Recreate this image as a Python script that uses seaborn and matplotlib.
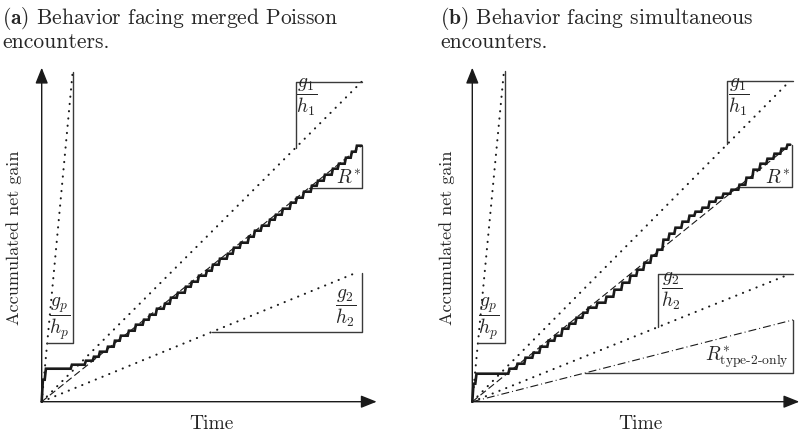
import numpy as np
import pandas as pd
import matplotlib
matplotlib.use("Agg")
import matplotlib.pyplot as plt
import seaborn as sns

# ---- data (units ~ pixels from the origin of each panel) ----

# panel (a): merged Poisson encounters
rate_names_a = ['gp', 'g1', 'rstar', 'g2']
rates_a = [10.65, 1.0, 0.80, 0.41]
line_end_a = [31.0, 320.0, 320.0, 313.0]
tri_from_a = [5.5, 254.0, 267.0, 170.0]
tri_to_a = [31.3, 320.0, 320.3, 320.0]
tri_side_a = ['below', 'above', 'below', 'below']
labels_a = [r'$\dfrac{g_p}{h_p}$', r'$\dfrac{g_1}{h_1}$', r'$R^{*}$', r'$\dfrac{g_2}{h_2}$']
label_x_a = [17.5, 265.0, 307.0, 304.0]
label_y_a = [83.0, 304.0, 224.0, 93.0]

# staircase of accumulated gain, panel (a): event times and gain after event
event_t_a = [0, 3, 29, 43, 51, 57, 65, 72, 78, 86, 93, 101, 107, 114, 122, 128,
             135, 143, 149, 156, 164, 170, 177, 185, 191, 198, 206, 212, 219,
             227, 233, 240, 248, 254, 261, 269, 275, 282, 290, 296, 303, 309, 314]
event_g_a = [22, 33, 37, 41, 45, 50, 55, 61, 66, 71, 77, 82, 87, 93, 98, 104,
             109, 115, 120, 126, 131, 137, 143, 148, 154, 159, 165, 171, 176,
             182, 187, 193, 199, 204, 210, 216, 221, 227, 233, 238, 244, 250, 256]
stair_end_a = 320.0

# panel (b): simultaneous encounters
rate_names_b = ['gp', 'g1', 'rstar', 'g2', 'r2']
rates_b = [10.44, 1.01, 0.808, 0.402, 0.255]
line_end_b = [31.7, 317.7, 317.7, 317.7, 320.7]
tri_from_b = [5.6, 254.7, 266.0, 185.7, 112.7]
tri_to_b = [32.7, 320.7, 319.7, 320.7, 320.7]
tri_side_b = ['below', 'above', 'below', 'above', 'below']
labels_b = [r'$\dfrac{g_p}{h_p}$', r'$\dfrac{g_1}{h_1}$', r'$R^{*}$',
            r'$\dfrac{g_2}{h_2}$', r'$R^{*}_{\text{type-2-only}}$']
label_x_b = [16.7, 266.7, 305.7, 199.7, 275.0]
label_y_b = [83.0, 304.0, 224.0, 110.0, 44.0]

event_t_b = [0, 3, 36, 44, 52, 60, 67, 75, 82, 89, 96, 103, 110, 115, 124, 133,
             141, 149, 157, 164, 171, 178, 184, 190, 196, 202, 209, 216, 222,
             229, 236, 243, 250, 258, 266, 273, 280, 287, 294, 301, 308, 314]
event_g_b = [18, 28, 33, 38, 44, 49, 55, 61, 66, 73, 78, 84, 89, 94, 99, 105,
             112, 119, 126, 132, 139, 146, 152, 162, 168, 174, 180, 186, 190,
             194, 200, 204, 208, 212, 217, 224, 232, 238, 243, 248, 253, 257]
stair_end_b = 318.0

titles = [r'$\mathbf{(a)}$ Behavior facing merged Poisson' + '\nencounters.',
          r'$\mathbf{(b)}$ Behavior facing simultaneous' + '\nencounters.']

# ---- style ----
sns.set_theme(style='white')
plt.rcParams['font.family'] = ['cmr10', 'DejaVu Serif']
plt.rcParams['mathtext.fontset'] = 'cm'
plt.rcParams['axes.unicode_minus'] = False
plt.rcParams['axes.formatter.use_mathtext'] = True

dotted = dict(ls=(0, (0.1, 3.4)), lw=1.5, dash_capstyle='round')
line_styles = {
    'gp': dotted,
    'g1': dotted,
    'g2': dotted,
    'rstar': dict(ls=(0, (6.3, 3.1)), lw=0.8),
    'r2': dict(ls=(0, (7.2, 2.7, 0.9, 2.7)), lw=0.8),
}


def stair_path(times, gains, t_end, slant=1.2):
    xs, ys, prev = [0.0], [0.0], 0.0
    for t, g in zip(times, gains):
        xs += [t, t + slant]
        ys += [prev, g]
        prev = g
    xs.append(t_end)
    ys.append(prev)
    return xs, ys


def draw_panel(ax, width, height, names, rates, ends, t_from, t_to, sides,
               labels, lx, ly, ev_t, ev_g, st_end):
    ax.set_xlim(0, width)
    ax.set_ylim(0, height)
    ax.axis('off')

    # axes arrows
    arrow = dict(arrowstyle='-|>,head_length=0.8,head_width=0.32', lw=1.0,
                 color='k', shrinkA=0, shrinkB=0, mutation_scale=12)
    ax.annotate('', xy=(width, 0), xytext=(0, 0), arrowprops=arrow,
                annotation_clip=False)
    ax.annotate('', xy=(0, height), xytext=(0, 0), arrowprops=arrow,
                annotation_clip=False)

    for name, m, xe, x0, x1, side in zip(names, rates, ends, t_from, t_to, sides):
        sns.lineplot(x=[0, xe], y=[0, m * xe], color='k', ax=ax,
                     clip_on=False, **line_styles[name])
        y0, ye = m * x0, m * xe
        if side == 'below':
            tx, ty = [x0, x1, x1], [y0, y0, ye]
        else:
            tx, ty = [x0, x0, x1], [y0, ye, ye]
        sns.lineplot(x=tx, y=ty, sort=False, estimator=None, color='#3a3a3a',
                     lw=1.0, ax=ax, clip_on=False)

    for text, x, y in zip(labels, lx, ly):
        ax.text(x, y, text, ha='center', va='center', fontsize=14)

    xs, ys = stair_path(ev_t, ev_g, st_end)
    sns.lineplot(x=xs, y=ys, sort=False, estimator=None, color='k', lw=1.9,
                 ax=ax, clip_on=False, solid_joinstyle='miter')


fig = plt.figure(figsize=(8, 4.38), dpi=100)
W, H = 800.0, 438.0

# panel (a)
ox, oy, w, h = 41.7, 401.7, 335.0, 334.0
ax_a = fig.add_axes([ox / W, (H - oy) / H, w / W, h / H])
draw_panel(ax_a, w, h, rate_names_a, rates_a, line_end_a, tri_from_a, tri_to_a,
           tri_side_a, labels_a, label_x_a, label_y_a, event_t_a, event_g_a,
           stair_end_a)

# panel (b)
ox_b, w_b = 472.3, 327.0
ax_b = fig.add_axes([ox_b / W, (H - oy) / H, w_b / W, h / H])
draw_panel(ax_b, w_b, h, rate_names_b, rates_b, line_end_b, tri_from_b, tri_to_b,
           tri_side_b, labels_b, label_x_b, label_y_b, event_t_b, event_g_b,
           stair_end_b)

# titles and axis labels
fig.text(2 / W, 1 - 5 / H, titles[0], ha='left', va='top', fontsize=15.5,
         linespacing=1.0)
fig.text(440 / W, 1 - 5 / H, titles[1], ha='left', va='top', fontsize=15.5,
         linespacing=1.0)
for xl, xt in [(14, 211), (447, 640)]:
    fig.text(xl / W, 1 - 238 / H, 'Accumulated net gain', rotation=90,
             ha='center', va='center', fontsize=13)
    fig.text(xt / W, 1 - 424 / H, 'Time', ha='center', va='center', fontsize=14)

fig.savefig('out.png', dpi=100)
